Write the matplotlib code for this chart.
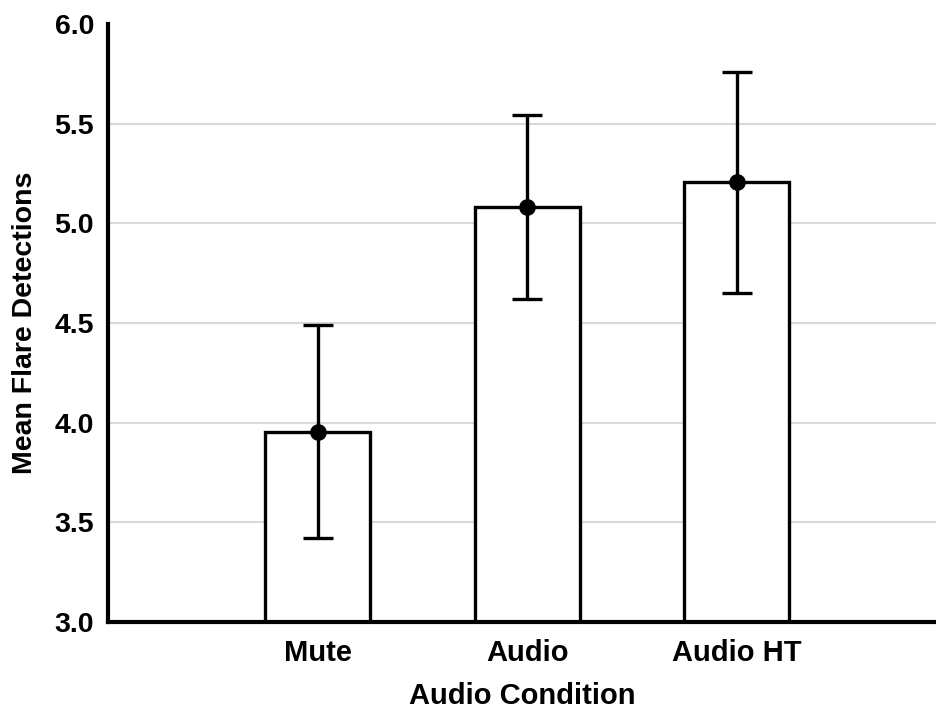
import matplotlib.pyplot as plt

plt.rcParams.update({
    "font.family": ["Liberation Sans", "DejaVu Sans"],
    "font.weight": "bold",
    "axes.labelweight": "bold",
    "font.size": 20,
})

conditions = ["Mute", "Audio", "Audio HT"]
means = [3.955, 5.082, 5.206]
errors = [0.533, 0.461, 0.553]
yticks = [3.0, 3.5, 4.0, 4.5, 5.0, 5.5, 6.0]

fig = plt.figure(figsize=(9.36, 7.13), dpi=100)
ax = fig.add_axes([108 / 936, 91 / 713, 1 - 108 / 936, 598 / 713])

pos = [1, 2, 3]
ax.bar(pos, [m - 3.0 for m in means], bottom=3.0, width=0.5,
       color="white", edgecolor="black", linewidth=2.4, zorder=2)
ax.errorbar(pos, means, yerr=errors, fmt="o", color="black",
            markersize=11, elinewidth=2.4, capsize=11, capthick=2.4, zorder=3)

ax.set_xlim(0, 3.95)
ax.set_ylim(3.0, 6.0)
ax.set_yticks(yticks)
ax.set_yticklabels([f"{v:.1f}" for v in yticks], fontsize=20.5)
ax.set_xticks(pos)
ax.set_xticklabels(conditions, fontsize=21)
ax.tick_params(axis="y", length=0, pad=10)
ax.tick_params(axis="x", length=0, pad=12)

ax.yaxis.grid(True, color="#d9d9d9", linewidth=1.5, zorder=0)
ax.set_axisbelow(True)
ax.yaxis.get_gridlines()[-1].set_visible(False)  # no line at the top

for s in ["top", "right"]:
    ax.spines[s].set_visible(False)
for s in ["left", "bottom"]:
    ax.spines[s].set_linewidth(3)

ax.set_xlabel("Audio Condition", fontsize=21, labelpad=11)
ax.set_ylabel("Mean Flare Detections", fontsize=20.5, labelpad=12)

fig.savefig("out.png", dpi=100)
